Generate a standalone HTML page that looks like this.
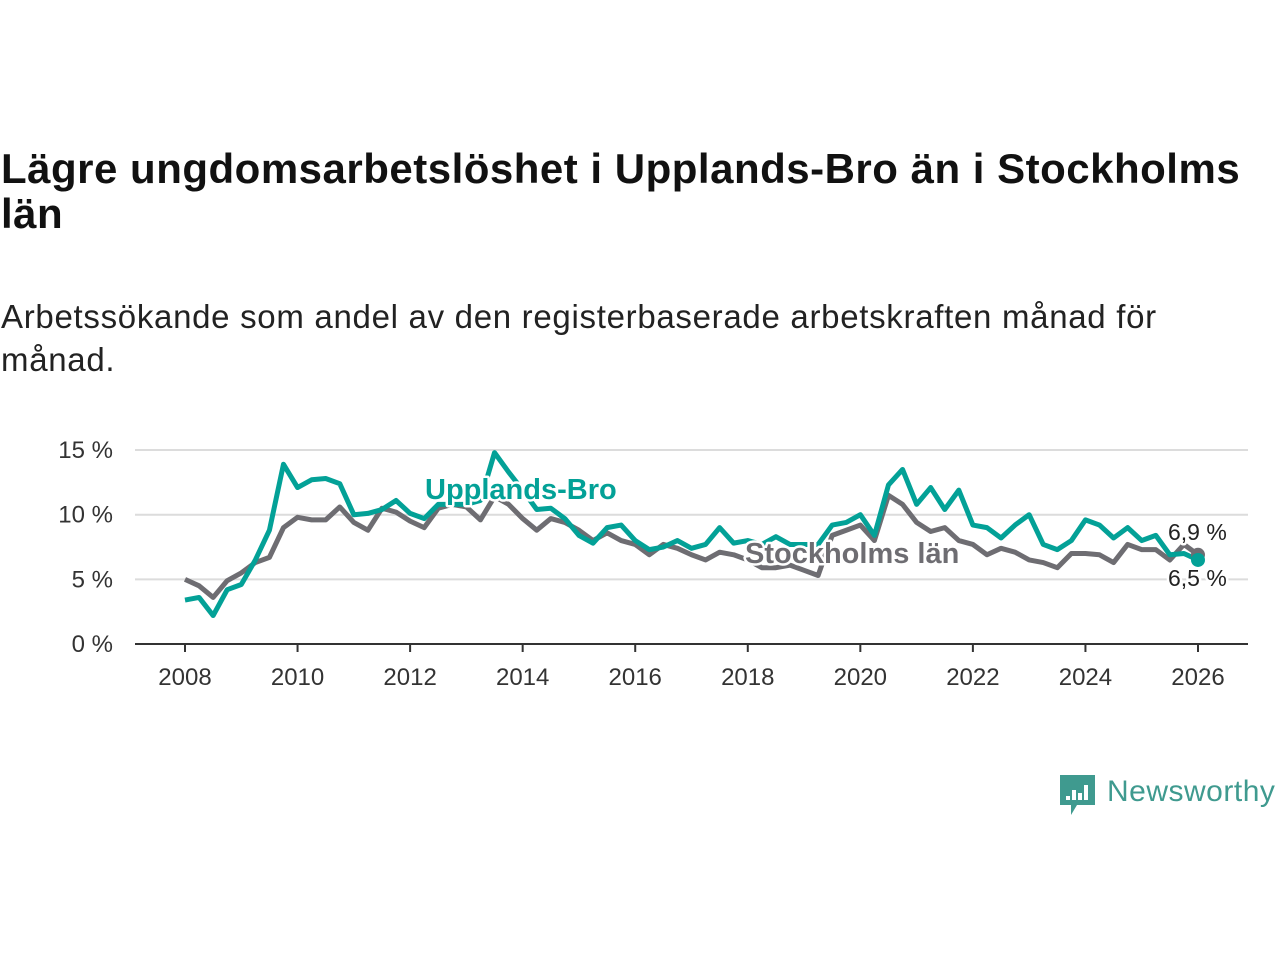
<!DOCTYPE html>
<html><head><meta charset="utf-8">
<style>
body{margin:0;width:1280px;height:960px;background:#fff;font-family:"Liberation Sans",sans-serif;overflow:hidden;position:relative}
#title{position:absolute;left:1px;top:146px;width:1279px;font-size:42px;font-weight:bold;line-height:45px;color:#111;letter-spacing:0.5px;white-space:nowrap}
#sub{position:absolute;left:1px;top:295px;width:1279px;font-size:33px;line-height:43px;color:#222;letter-spacing:0.7px;white-space:nowrap}
svg{position:absolute;left:0;top:0}
</style></head><body>
<div id="title">Lägre ungdomsarbetslöshet i Upplands-Bro än i Stockholms<br>län</div>
<div id="sub">Arbetssökande som andel av den registerbaserade arbetskraften månad för<br>månad.</div>
<svg id="chart" width="1280" height="960"></svg>
<script>
const years=[2008,2010,2012,2014,2016,2018,2020,2022,2024,2026];
const yTicks=[0,5,10,15];
const yTickLabels=["0 %","5 %","10 %","15 %"];
const startYear=2008, step=0.25;
const upplandsBro=[3.4,3.6,2.2,4.2,4.6,6.5,8.8,13.9,12.1,12.7,12.8,12.4,10.0,10.1,10.4,11.1,10.1,9.7,10.8,10.8,10.8,11.1,14.8,13.3,11.9,10.4,10.5,9.7,8.4,7.8,9.0,9.2,8.0,7.3,7.5,8.0,7.4,7.7,9.0,7.8,8.0,7.7,8.3,7.7,7.7,7.7,9.2,9.4,10.0,8.4,12.3,13.5,10.8,12.1,10.4,11.9,9.2,9.0,8.2,9.2,10.0,7.7,7.3,8.0,9.6,9.2,8.2,9.0,8.0,8.4,6.9,7.0,6.5];
const stockholm=[5.0,4.5,3.6,4.9,5.5,6.3,6.7,9.0,9.8,9.6,9.6,10.6,9.4,8.8,10.5,10.2,9.5,9.0,10.5,10.8,10.6,9.6,11.4,10.8,9.7,8.8,9.7,9.4,8.8,8.0,8.6,8.0,7.7,6.9,7.7,7.4,6.9,6.5,7.1,6.9,6.5,5.9,5.9,6.1,5.7,5.3,8.4,8.8,9.2,8.0,11.5,10.8,9.4,8.7,9.0,8.0,7.7,6.9,7.4,7.1,6.5,6.3,5.9,7.0,7.0,6.9,6.3,7.7,7.3,7.3,6.5,7.7,6.9];
const NS="http://www.w3.org/2000/svg";
const svg=document.getElementById('chart');
const X=t=>185+(t-2008)*(1198-185)/18;
const Y=v=>644-v*12.93;
function mk(tag,attrs,parent){const e=document.createElementNS(NS,tag);for(const k in attrs)e.setAttribute(k,attrs[k]);(parent||svg).appendChild(e);return e;}
yTicks.forEach((v,i)=>{
  if(v>0){const g=mk('line',{x1:135,x2:1248,y1:Y(v),y2:Y(v),stroke:'#dcdcdc','stroke-width':2});
  
  }
  const t=mk('text',{x:113,y:Y(v)+8,'text-anchor':'end','font-size':24,fill:'#333','font-family':'Liberation Sans, sans-serif'});
  t.textContent=yTickLabels[i];
  
  
});
const ax=mk('line',{x1:135,x2:1248,y1:644,y2:644,stroke:'#333','stroke-width':2});


years.forEach(y=>{
  const tk=mk('line',{x1:X(y),x2:X(y),y1:644,y2:652,stroke:'#333','stroke-width':2});
  
  
  const t=mk('text',{x:X(y),y:685,'text-anchor':'middle','font-size':24,fill:'#333'});
  t.textContent=y;
  
  
});
function pts(arr){return arr.map((v,i)=>X(startYear+i*step)+','+Y(v)).join(' ');}
const sl=mk('polyline',{points:pts(stockholm),fill:'none',stroke:'#6e6d72','stroke-width':5,'stroke-linejoin':'round'});


const ul=mk('polyline',{points:pts(upplandsBro),fill:'none',stroke:'#03a197','stroke-width':5,'stroke-linejoin':'round'});


const n=stockholm.length-1;
const d1=mk('circle',{cx:X(startYear+n*step),cy:Y(stockholm[n]),r:7,fill:'#6e6d72'});


const d2=mk('circle',{cx:X(startYear+n*step),cy:Y(upplandsBro[n]),r:7,fill:'#03a197'});


function label(txt,x,y,size,fill,bold,name,anchor){
  const t=mk('text',{x:x,y:y,'font-size':size,fill:fill,'font-weight':bold?'bold':'normal',stroke:'#fff','stroke-width':5,'paint-order':'stroke','stroke-linejoin':'round','text-anchor':anchor||'start'});
  t.textContent=txt;
  
  
}
label('Upplands-Bro',425,499,29,'#03a197',true,'upplands-bro-label');
label('Stockholms län',745,563,29,'#6e6d72',true,'stockholms-lan-label');
label(String(stockholm[n]).replace('.',',')+' %',1168,540,23,'#222',false,'stockholms-lan-end-value');
label(String(upplandsBro[n]).replace('.',',')+' %',1168,586,23,'#222',false,'upplands-bro-end-value');
const lg=mk('g',{});


mk('path',{d:'M1060 775 h35 v30 h-18 l-6 10 v-10 h-11 z',fill:'#3f9a8f'},lg);
[[1066,796,4],[1072,790,10],[1078,793,7],[1084,785,15]].forEach(b=>mk('rect',{x:b[0],y:b[1],width:4,height:b[2],fill:'#fff'},lg));
const lt=mk('text',{x:1107,y:801,'font-size':30,fill:'#3f9a8f','letter-spacing':0.5},lg);
lt.textContent='Newsworthy';
</script>
</body></html>
